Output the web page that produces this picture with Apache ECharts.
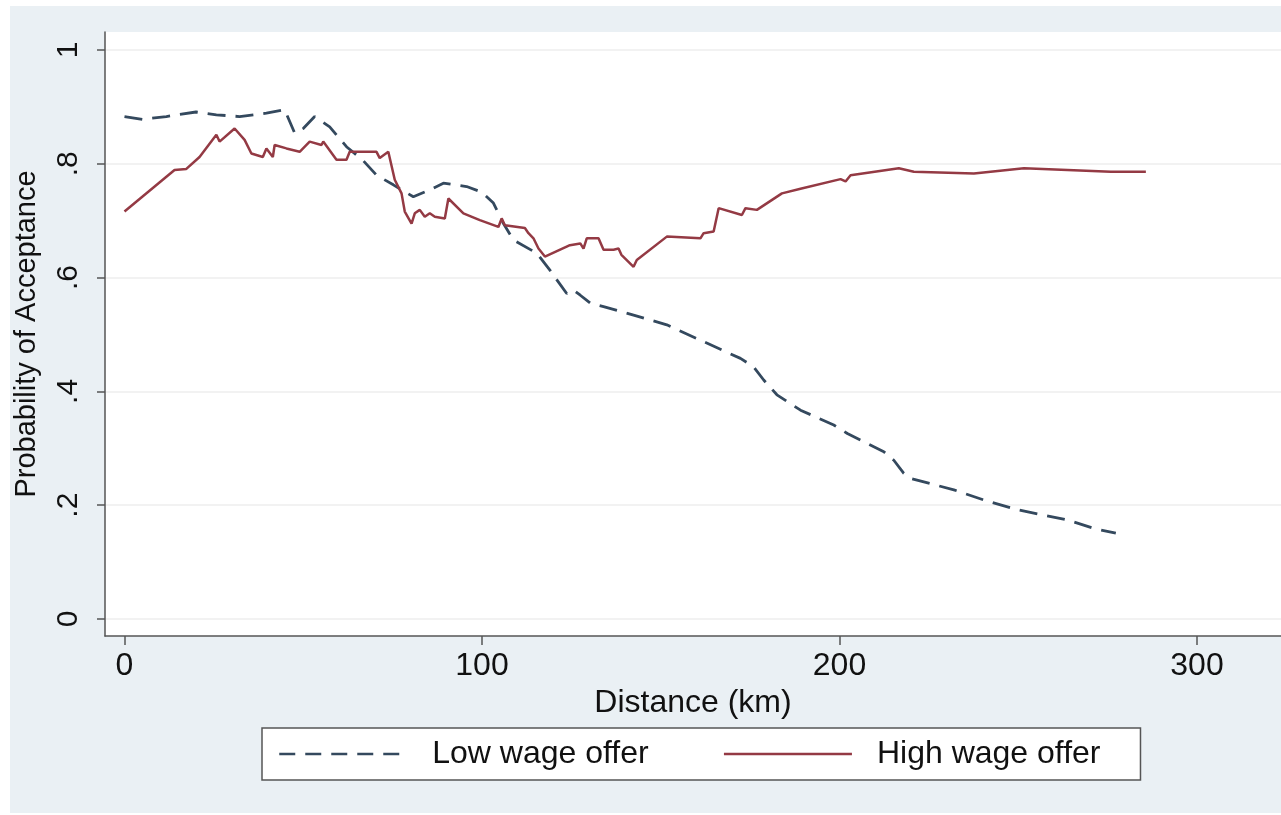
<!DOCTYPE html>
<html>
<head>
<meta charset="utf-8">
<script src="https://cdn.jsdelivr.net/npm/echarts@6/dist/echarts.min.js"></script>
<style>
  html, body { margin: 0; padding: 0; background: #ffffff; }
  #bg { position: absolute; left: 10px; top: 6px; right: 0; bottom: 2px; background: #eaf0f4; }
  #chart { position: absolute; left: 0; top: 0; width: 1281px; height: 815px; }
</style>
</head>
<body>
<div id="bg"></div>
<div id="chart"></div>
<script>
// ---- data ----
const seriesNames = ['Low wage offer', 'High wage offer'];

const lowDist = [0, 5, 11.7, 20, 25.7, 32.2, 39.7, 44.8, 47.6, 50, 53.2, 57.4, 62.1, 66.7, 70.5, 75.2, 80.8, 85.4, 89.2, 95.7, 100, 103.2, 106, 108.8, 115.3, 119, 123.7, 125.6, 127.5, 130.3, 134, 142.4, 151.7, 161.1, 172.3, 176, 178.8, 182.5, 189.1, 198.4, 202.2, 212.4, 215.2, 218, 219.9, 232, 240.4, 249.8, 263.8, 271.2, 277.3];
const lowProb = [0.883, 0.878, 0.883, 0.891, 0.886, 0.883, 0.889, 0.895, 0.854, 0.862, 0.883, 0.865, 0.830, 0.806, 0.780, 0.763, 0.742, 0.754, 0.766, 0.760, 0.750, 0.731, 0.695, 0.666, 0.643, 0.613, 0.572, 0.578, 0.569, 0.555, 0.549, 0.534, 0.517, 0.490, 0.458, 0.443, 0.420, 0.394, 0.367, 0.341, 0.326, 0.294, 0.279, 0.256, 0.247, 0.227, 0.209, 0.192, 0.174, 0.159, 0.151];

const highDist = [0, 14, 17.3, 21, 25.7, 26.6, 30.8, 33.6, 35.5, 38.7, 39.7, 41.5, 42, 45.3, 49, 51.8, 55.1, 55.6, 59.3, 62.1, 63, 70.5, 71.4, 73.8, 74.2, 75.6, 77.5, 78.4, 80.3, 81.2, 82.6, 84, 85.4, 86.8, 89.6, 90.6, 94.8, 99.4, 104.6, 105.5, 106.4, 112, 113, 114.4, 115.8, 117.6, 124.6, 127.5, 128.4, 129.3, 132.6, 134, 136.8, 138.2, 139, 142.4, 143.3, 151.7, 161.1, 162, 164.8, 166.2, 172.7, 173.7, 176.9, 183.9, 189.1, 200.3, 201.7, 203.1, 216.6, 220.8, 237.6, 251.6, 275.9, 285.7];
const highProb = [0.716, 0.789, 0.791, 0.812, 0.851, 0.839, 0.862, 0.842, 0.818, 0.812, 0.827, 0.812, 0.833, 0.827, 0.821, 0.839, 0.833, 0.839, 0.807, 0.807, 0.821, 0.821, 0.810, 0.821, 0.818, 0.772, 0.748, 0.716, 0.695, 0.713, 0.719, 0.707, 0.713, 0.707, 0.704, 0.739, 0.713, 0.701, 0.689, 0.704, 0.692, 0.687, 0.678, 0.669, 0.651, 0.637, 0.657, 0.660, 0.651, 0.669, 0.669, 0.649, 0.649, 0.651, 0.640, 0.619, 0.631, 0.672, 0.669, 0.678, 0.681, 0.722, 0.710, 0.722, 0.719, 0.748, 0.756, 0.773, 0.769, 0.780, 0.792, 0.786, 0.783, 0.792, 0.786, 0.786];

const xTickValues = [0, 100, 200, 300];
const xTickLabels = ['0', '100', '200', '300'];
const yTickValues = [0, 0.2, 0.4, 0.6, 0.8, 1];
const yTickLabels = ['0', '.2', '.4', '.6', '.8', '1'];

const xTitle = 'Distance (km)';
const yTitle = 'Probability of Acceptance';

// ---- chart ----
function pairs(xs, ys) { return xs.map((x, i) => [x, ys[i]]); }
function lookup(vals, labels) {
  return function (v) {
    for (let i = 0; i < vals.length; i++) if (Math.abs(vals[i] - v) < 1e-6) return labels[i];
    return '';
  };
}

const FONT = "'Liberation Sans', Arial, Helvetica, sans-serif";
const LOW_COLOR = '#34495e';
const HIGH_COLOR = '#943a44';
const chart = echarts.init(document.getElementById('chart'), null, { renderer: 'canvas' });

chart.setOption({
  backgroundColor: 'transparent',
  animation: false,
  textStyle: { fontFamily: FONT },
  grid: {
    left: 105, right: 0, top: 32, bottom: 179,
    show: true, backgroundColor: '#ffffff', borderWidth: 0
  },
  legend: {
    left: 262, top: 728,
    data: [
      { name: seriesNames[0], lineStyle: { type: [16, 10], width: 2.5 } },
      { name: seriesNames[1], lineStyle: { width: 2.5 } }
    ],
    itemStyle: { opacity: 0 },
    itemWidth: 128, itemHeight: 14, itemGap: 74,
    padding: [10, 40, 10, 16],
    backgroundColor: '#ffffff',
    borderColor: '#555555', borderWidth: 1.5, borderRadius: 0,
    textStyle: { fontFamily: FONT, fontSize: 32, color: '#111111', padding: [0, 0, 0, 20] }
  },
  xAxis: {
    type: 'value',
    min: -5.45, max: 323.5,
    name: xTitle, nameLocation: 'middle', nameGap: 46,
    nameTextStyle: { fontFamily: FONT, fontSize: 32, color: '#111111' },
    axisLine: { show: true, onZero: false, lineStyle: { color: '#555555', width: 1.5 } },
    axisTick: { show: true, customValues: xTickValues, length: 9, lineStyle: { color: '#555555', width: 1.5 } },
    axisLabel: { customValues: xTickValues, formatter: lookup(xTickValues, xTickLabels),
                 fontFamily: FONT, fontSize: 32, color: '#111111', margin: 14 },
    splitLine: { show: false }
  },
  yAxis: {
    type: 'value',
    min: -0.0299, max: 1.0316,
    name: yTitle, nameLocation: 'middle', nameGap: 64, nameRotate: 90,
    nameTextStyle: { fontFamily: FONT, fontSize: 29, color: '#111111' },
    axisLine: { show: true, onZero: false, lineStyle: { color: '#555555', width: 1.5 } },
    axisTick: { show: true, customValues: yTickValues, length: 8, lineStyle: { color: '#555555', width: 1.5 } },
    axisLabel: { customValues: yTickValues, formatter: lookup(yTickValues, yTickLabels), rotate: 90,
                 fontFamily: FONT, fontSize: 30, color: '#111111', margin: 21 },
    splitLine: { show: true, lineStyle: { color: '#eeeeee', width: 1.5 } }
  },
  series: [
    {
      name: seriesNames[0], type: 'line', symbol: 'none', smooth: false,
      data: pairs(lowDist, lowProb),
      lineStyle: { color: LOW_COLOR, width: 2.8, type: [18, 10] },
      itemStyle: { color: LOW_COLOR }
    },
    {
      name: seriesNames[1], type: 'line', symbol: 'none', smooth: false,
      data: pairs(highDist, highProb),
      lineStyle: { color: HIGH_COLOR, width: 2.5, type: 'solid' },
      itemStyle: { color: HIGH_COLOR }
    }
  ]
});
</script>
</body>
</html>
